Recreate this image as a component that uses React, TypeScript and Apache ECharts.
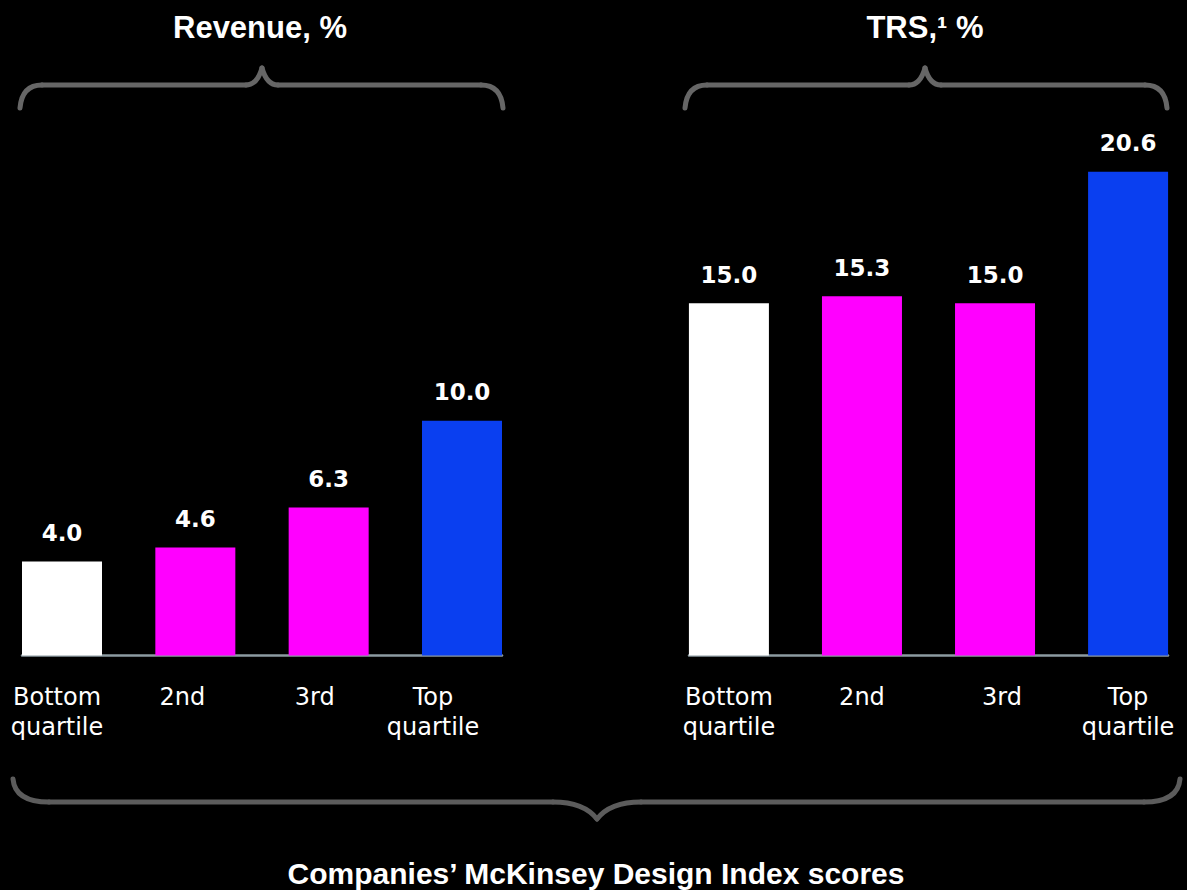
import React, { useEffect, useRef } from 'react';
import * as echarts from 'echarts';

const categories = ['Bottom\nquartile', '2nd', '3rd', 'Top\nquartile'];
const revenueValues = [4.0, 4.6, 6.3, 10.0];
const trsValues = [15.0, 15.3, 15.0, 20.6];
const barColors = ['#ffffff', '#ff00ff', '#ff00ff', '#0a3ff0'];
const revenueTitle = 'Revenue, %';
const trsTitle = 'TRS,¹ %';
const footerTitle = 'Companies’ McKinsey Design Index scores';

function brace(
  x0: number, x1: number, xc: number, yLine: number, yEnd: number, yPoint: number,
  hook: number, cusp: number, color: string, width: number
) {
  const st = () => ({ stroke: color, lineWidth: width, fill: null, lineCap: 'round' });
  return [
    { type: 'bezierCurve', shape: { x1: x0, y1: yEnd, cpx1: x0 + 2, cpy1: yLine, x2: x0 + hook, y2: yLine }, style: st() },
    { type: 'line', shape: { x1: x0 + hook, y1: yLine, x2: xc - cusp, y2: yLine }, style: st() },
    { type: 'bezierCurve', shape: { x1: xc - cusp, y1: yLine, cpx1: xc - cusp * 0.3, cpy1: yLine, x2: xc, y2: yPoint }, style: st() },
    { type: 'bezierCurve', shape: { x1: xc + cusp, y1: yLine, cpx1: xc + cusp * 0.3, cpy1: yLine, x2: xc, y2: yPoint }, style: st() },
    { type: 'line', shape: { x1: xc + cusp, y1: yLine, x2: x1 - hook, y2: yLine }, style: st() },
    { type: 'bezierCurve', shape: { x1: x1, y1: yEnd, cpx1: x1 - 2, cpy1: yLine, x2: x1 - hook, y2: yLine }, style: st() },
  ];
}

function textEl(text: string, x: number, y: number, font: string) {
  return {
    type: 'text',
    x,
    y,
    style: {
      text,
      fill: '#ffffff',
      font,
      align: 'center',
      verticalAlign: 'middle',
      textAlign: 'center',
      textVerticalAlign: 'middle',
    },
  };
}

export default function App() {
  const ref = useRef<HTMLDivElement>(null);

  useEffect(() => {
    document.body.style.margin = '0';
    document.body.style.background = '#000';
    if (!ref.current) return;
    const chart = echarts.init(ref.current, null, { renderer: 'svg' });

    const labelStyle = {
      color: '#ffffff',
      fontSize: 24,
      fontFamily: '"DejaVu Sans", sans-serif',
      lineHeight: 30,
    };

    // shifts (px) applied to the left panel's labels, which sit a little left of their bars
    const xAxisBase = (gridIndex: number, shifts: number[]) => {
      const rich: Record<string, any> = {};
      shifts.forEach((s, i) => {
        rich['s' + i] = {
          ...labelStyle,
          padding: s < 0 ? [0, -2 * s, 0, 0] : [0, 0, 0, 2 * s],
        };
      });
      return {
        type: 'value',
        gridIndex,
        min: -0.3,
        max: 3.3,
        axisLine: { show: true, lineStyle: { color: '#8c9ba1', width: 2.5 } },
        axisTick: { show: false },
        splitLine: { show: false },
        axisLabel: {
          customValues: [0, 1, 2, 3],
          formatter: (v: number) => {
            const i = Math.round(v);
            return categories[i]
              .split('\n')
              .map((line) => `{s${i}|${line}}`)
              .join('\n');
          },
          ...labelStyle,
          rich,
          margin: 26,
        },
      };
    };
    const yAxisBase = (gridIndex: number) => ({
      type: 'value',
      gridIndex,
      min: 0,
      max: 25,
      show: false,
      splitLine: { show: false },
    });
    const barSeries = (values: number[], idx: number) => ({
      type: 'bar',
      xAxisIndex: idx,
      yAxisIndex: idx,
      barWidth: 80,
      data: values.map((v, i) => ({ value: [i, v], itemStyle: { color: barColors[i] } })),
      label: {
        show: true,
        position: 'top',
        distance: 17,
        formatter: (p: any) => Number(p.value[1]).toFixed(1),
        color: '#ffffff',
        fontFamily: '"DejaVu Sans", sans-serif',
        fontWeight: 'bold',
        fontSize: 23,
      },
    });

    const braceColor = '#666666';
    chart.setOption({
      animation: false,
      backgroundColor: '#000000',
      grid: [
        { left: 22, width: 480, top: 68.5, height: 587 },
        { left: 689, width: 479, top: 68.5, height: 587 },
      ],
      xAxis: [xAxisBase(0, [-5, -13, -14, -29]), xAxisBase(1, [0, 0, 7, 0])],
      yAxis: [yAxisBase(0), yAxisBase(1)],
      series: [barSeries(revenueValues, 0), barSeries(trsValues, 1)],
      graphic: [
        ...brace(20, 503, 262, 85, 108, 68, 22, 16, braceColor, 5),
        ...brace(685, 1167, 925, 85, 108, 68, 22, 16, braceColor, 5),
        ...brace(13, 1180, 597, 802, 779, 819, 36, 44, '#5c5c5c', 5),
        textEl(revenueTitle, 260, 27, 'bold 31px "Liberation Sans", Arial, sans-serif'),
        textEl(trsTitle, 925, 27, 'bold 31px "Liberation Sans", Arial, sans-serif'),
        textEl(footerTitle, 596, 873, 'bold 30px "Liberation Sans", Arial, sans-serif'),
      ],
    });

    return () => chart.dispose();
  }, []);

  return <div ref={ref} style={{ width: 1187, height: 890, background: '#000' }} />;
}
